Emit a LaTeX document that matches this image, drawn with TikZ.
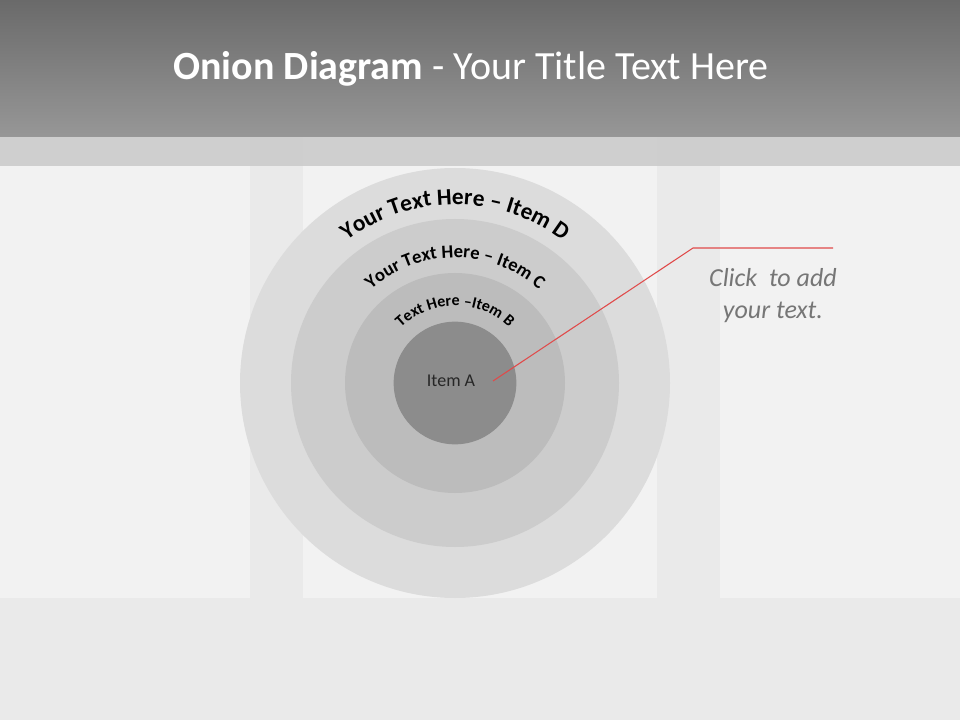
\documentclass[tikz,border=0pt]{standalone}
\usepackage{fontspec}
\setmainfont{Carlito}
\usetikzlibrary{decorations.text}
\definecolor{wallC}{HTML}{EAEAEA}
\definecolor{panelC}{HTML}{F2F2F2}
\definecolor{barTop}{HTML}{6A6A6A}
\definecolor{barBot}{HTML}{979797}
\definecolor{stripC}{HTML}{CCCCCC}
\definecolor{ringD}{HTML}{DCDCDC}
\definecolor{ringC}{HTML}{CCCCCC}
\definecolor{ringB}{HTML}{BCBCBC}
\definecolor{ringA}{HTML}{8C8C8C}
\definecolor{leadC}{HTML}{E04A4A}
\definecolor{noteC}{HTML}{767676}
\tikzset{
  ring/.style={circle, draw=none, inner sep=0pt},
  curvedlabel/.style={decorate, decoration={text along path, text align=center}},
  leader/.style={draw=leadC, line width=0.8pt},
}
\begin{document}
\begin{tikzpicture}[x=0.75pt,y=-0.75pt]
\useasboundingbox (0,0) rectangle (960,720);
% wall
\fill[wallC] (0,0) rectangle (960,720);
% panels
\fill[panelC] (0,137) rectangle (250,598);
\fill[panelC] (303,137) rectangle (657,598);
\fill[panelC] (720,137) rectangle (960,598);
% title bar
\shade[top color=barTop, bottom color=barBot] (0,0) rectangle (960,137);
\fill[stripC, opacity=0.9] (0,137) rectangle (960,166);
\node[text=white, font=\fontsize{30}{36}\selectfont, anchor=base] (title) at (471,80)
  {\textbf{Onion Diagram} - Your Title Text Here};
% rings
\coordinate (ctr) at (455,383);
\node[ring, fill=ringD, minimum size=322.5pt] (itemD) at (ctr) {};
\node[ring, fill=ringC, minimum size=246pt] (itemC) at (ctr) {};
\node[ring, fill=ringB, minimum size=165pt] (itemB) at (ctr) {};
\node[ring, fill=ringA, minimum size=92pt] (itemA) at (ctr) {};
\node[font=\fontsize{13.5}{16}\selectfont, text=black!85] (labelA) at (451,381) {Item A};
% curved labels
\path[curvedlabel, decoration={text={|\fontsize{17.5}{18}\selectfont\bfseries|Your Text Here – Item D}}]
  ([shift={(165:134pt)}]ctr) arc[start angle=165, end angle=15, radius=134pt];
\path[curvedlabel, decoration={text={|\fontsize{14}{15}\selectfont\bfseries|Your Text Here – Item C}}]
  ([shift={(165:94pt)}]ctr) arc[start angle=165, end angle=15, radius=94pt];
\path[curvedlabel, decoration={text={|\fontsize{12}{13}\selectfont\bfseries|Text Here –Item B}}]
  ([shift={(170:58pt)}]ctr) arc[start angle=170, end angle=10, radius=58pt];
% leader line
\coordinate (leadStart) at (493,381);
\coordinate (leadBend) at (693,248);
\coordinate (leadEnd) at (833,248);
\draw[leader] (leadStart) -- (leadBend) -- (leadEnd);
\node[font=\fontsize{19.5}{24}\selectfont\itshape, text=noteC, align=center, anchor=north] (note) at (773,264)
  {Click\ \ to add\\your text.};
\end{tikzpicture}
\end{document}
